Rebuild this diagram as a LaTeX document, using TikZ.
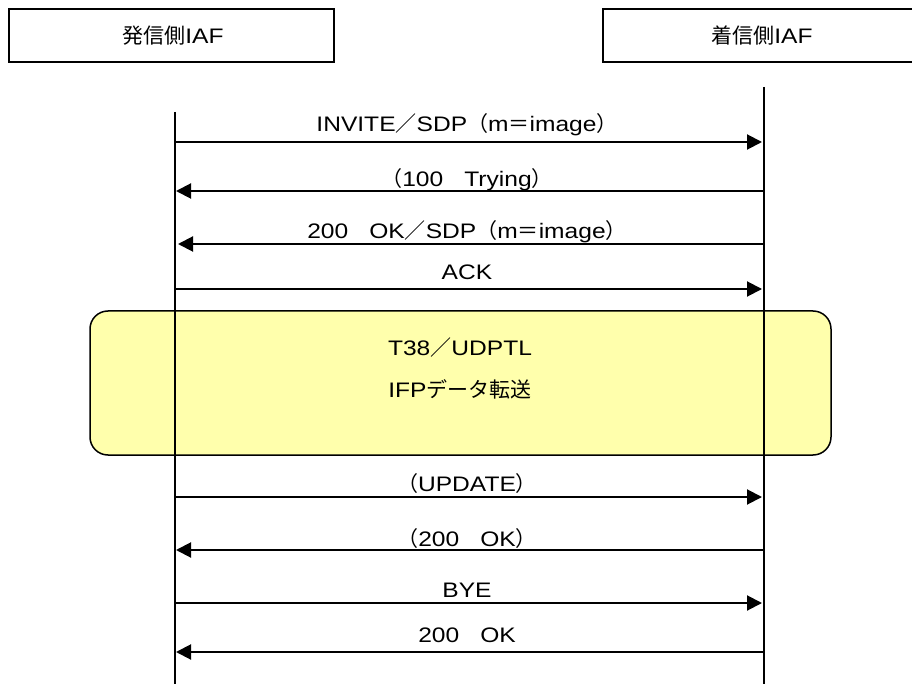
\documentclass[tikz,border=0pt]{standalone}
\usepackage{fontspec}
\setmainfont{Liberation Sans}[FakeStretch=1.17]
\newfontfamily\jp{Noto Sans CJK JP}
\newcommand{\zw}[1]{{\jp #1}}
\usetikzlibrary{arrows.meta}
\definecolor{ifpyellow}{RGB}{255,255,172}

\begin{document}
\begin{tikzpicture}[x=1pt,y=-1pt,font=\fontsize{21}{25}\selectfont,
    head/.style={line width=1.5pt},
    life/.style={line width=1.3pt},
    msg/.style={-{Triangle[length=15pt,width=15pt]},line width=2pt},
    lbl/.style={anchor=base,inner sep=0pt}]
\useasboundingbox (0,0) rectangle (912,684);

% header
\draw[head] (9,9) rectangle (334,62);
\draw[head] (603,9) rectangle (940,62);
\node (orig) at (173,36) {\zw{発信側}IAF};
\node (term) at (762,36) {\zw{着信側}IAF};

% T38 block
\node[draw,fill=ifpyellow,line width=1.5pt,rounded corners=18pt,
      minimum width=741pt,minimum height=144pt] (ifp) at (460.5,383) {};
\node[lbl] (t38) at (460,355) {T38\zw{／}UDPTL};
\node[lbl] (ifpdata) at (460,397) {IFP\zw{データ転送}};

% lifelines
\coordinate (origtop) at (175,112);
\coordinate (origbot) at (175,684);
\coordinate (termtop) at (764,87);
\coordinate (termbot) at (764,684);
\draw[life] (origtop) -- (origbot);
\draw[life] (termtop) -- (termbot);

% messages
\foreach \n/\y/\ly/\a/\b/\txt in {
    1/142/132/175/762/{INVITE\zw{／}SDP\zw{（}m\zw{＝}image\zw{）}},
    2/191/187/764/176/{\zw{（}100\zw{　}Trying\zw{）}},
    3/244/239/764/178/{200\zw{　}OK\zw{／}SDP\zw{（}m\zw{＝}image\zw{）}},
    4/289/280/175/762/{ACK},
    5/497/491/175/762/{\zw{（}UPDATE\zw{）}},
    6/550/546/764/176/{\zw{（}200\zw{　}OK\zw{）}},
    7/603/597/175/762/{BYE},
    8/652/642/764/176/{200\zw{　}OK}} {
    \coordinate (s\n) at (\a,\y);
    \coordinate (e\n) at (\b,\y);
    \draw[msg] (s\n) -- (e\n);
    \node[lbl] (m\n) at (467,\ly) {\txt};
}
\end{tikzpicture}
\end{document}
